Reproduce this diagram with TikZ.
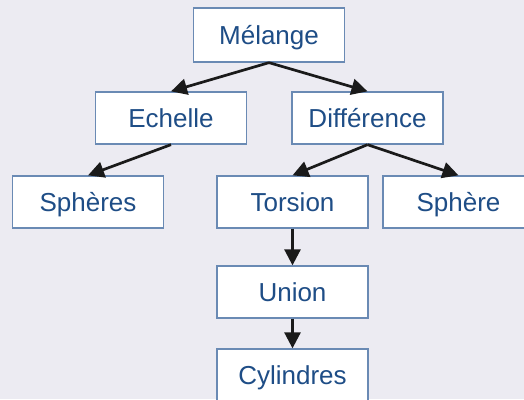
\documentclass[tikz,border=0pt]{standalone}
\usepackage{fontspec}
\setmainfont{Liberation Sans}
\usetikzlibrary{arrows.meta}
\definecolor{bgcol}{HTML}{ECEBF2}
\definecolor{boxline}{HTML}{6A8AB4}
\definecolor{txtcol}{HTML}{1E4D86}
\definecolor{arrcol}{HTML}{1A1A1A}
\tikzset{
  box/.style={draw=boxline, fill=white, line width=1.3pt, minimum width=151pt, minimum height=52pt,
    inner sep=0pt, text=txtcol, font=\fontsize{26}{30}\selectfont, text height=18.6pt, text depth=0pt},
  link/.style={draw=arrcol, line width=2.7pt, -{Triangle[length=16pt,width=16pt]}}
}
\begin{document}
\begin{tikzpicture}[x=1pt,y=-1pt]
\useasboundingbox (0,0) rectangle (524,399);
\clip (0,0) rectangle (524,399);
\fill[bgcol] (0,0) rectangle (524,399);
\node[box, minimum height=54pt] (melange) at (269,35) {Mélange};
\node[box] (echelle) at (171,118) {Echelle};
\node[box] (diff) at (367.5,118) {Différence};
\node[box] (spheres) at (88,202) {Sphères};
\node[box] (torsion) at (292.5,202) {Torsion};
\node[box] (sphere) at (458.5,202) {Sphère};
\node[box] (union) at (292.5,292) {Union};
\node[box] (cyl) at (292.5,375) {Cylindres};
\draw[link] (melange.south) -- (echelle.north);
\draw[link] (melange.south) -- (diff.north);
\draw[link] (echelle.south) -- (spheres.north);
\draw[link] (diff.south) -- (torsion.north);
\draw[link] (diff.south) -- (sphere.north);
\draw[link] (torsion.south) -- (union.north);
\draw[link] (union.south) -- (cyl.north);
\end{tikzpicture}
\end{document}
